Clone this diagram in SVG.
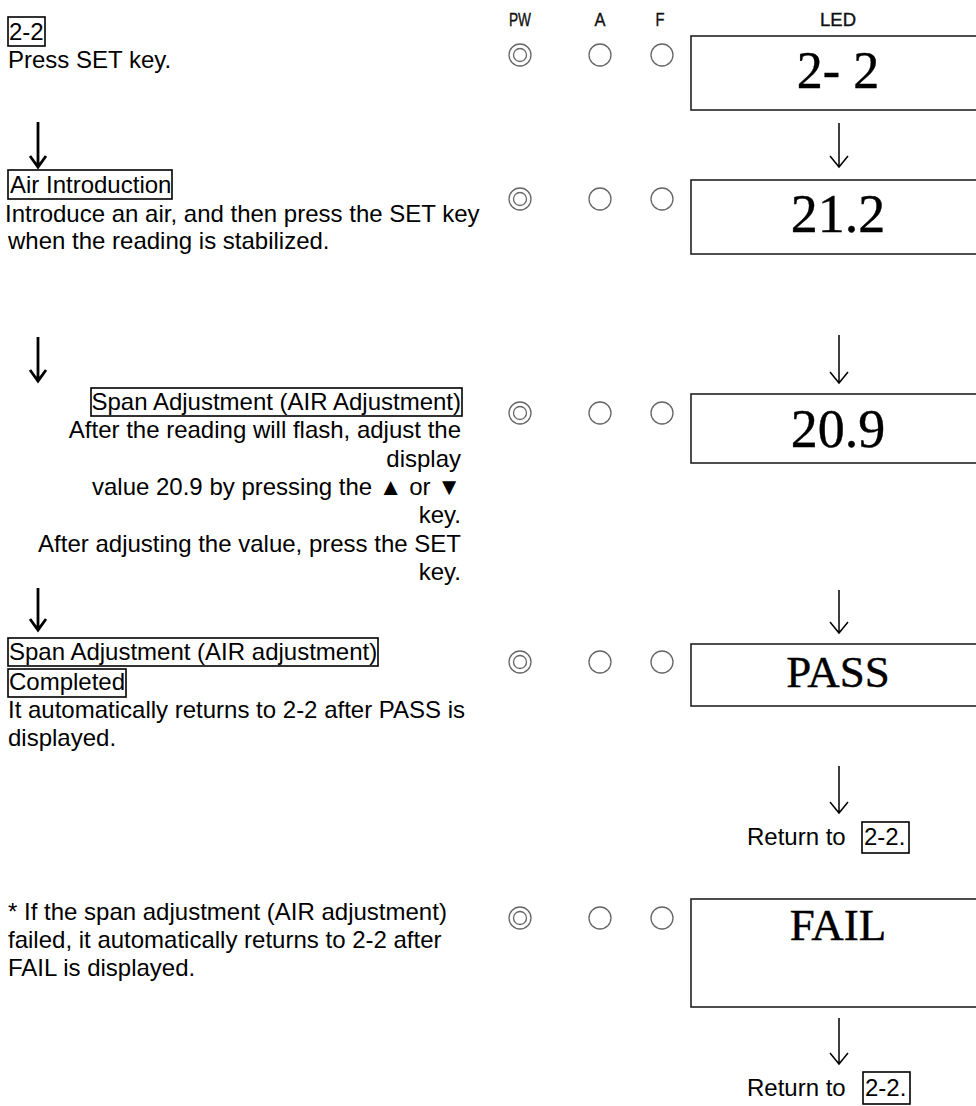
<svg xmlns="http://www.w3.org/2000/svg" width="976" height="1106" viewBox="0 0 976 1106">
<defs>
<style>
.t{font-family:"Liberation Sans",Arial,sans-serif;font-size:24px;fill:#000}
.r{text-anchor:end}
.hd{font-family:"Liberation Sans",Arial,sans-serif;font-size:19px;fill:#111;stroke:#111;stroke-width:0.4;text-anchor:middle}
.led{font-family:"Liberation Serif","Times New Roman",serif;fill:#000;stroke:#000;stroke-width:0.4;text-anchor:middle}
.box{fill:none;stroke:#000;stroke-width:1.6}
.lbox{fill:#fff;stroke:#222;stroke-width:1.6}
.lamp{fill:none;stroke:#666;stroke-width:1.3}
.ar{fill:none;stroke:#000;stroke-width:1.5}
.arl{fill:none;stroke:#000;stroke-width:2.8}
</style>
</defs>
<rect width="976" height="1106" fill="#fff"/>

<g id="header">
<text class="hd" x="520" y="26" textLength="22" lengthAdjust="spacingAndGlyphs">PW</text>
<text class="hd" x="600" y="26" textLength="11" lengthAdjust="spacingAndGlyphs">A</text>
<text class="hd" x="660" y="26" textLength="9" lengthAdjust="spacingAndGlyphs">F</text>
<text class="hd" x="838" y="26" textLength="36" lengthAdjust="spacingAndGlyphs">LED</text>
</g>

<g id="step1">
<rect class="box" x="8" y="17" width="37" height="29"/>
<text class="t" x="9" y="40">2-2</text>
<text class="t" x="8" y="68">Press SET key.</text>
</g>

<g id="step2">
<rect class="box" x="8" y="170" width="164" height="29"/>
<text class="t" x="10" y="193">Air Introduction</text>
<text class="t" x="5" y="222"> Introduce an air, and then press the SET key</text>
<text class="t" x="8" y="249">when the reading is stabilized.</text>
</g>

<g id="step3">
<rect class="box" x="91" y="388" width="371" height="28"/>
<text class="t r" x="461" y="410">Span Adjustment (AIR Adjustment)</text>
<text class="t r" x="461" y="438">After the reading will flash, adjust the</text>
<text class="t r" x="461" y="467">display</text>
<text class="t r" x="461" y="495">value 20.9 by pressing the ▲ or ▼</text>
<text class="t r" x="461" y="523">key.</text>
<text class="t r" x="461" y="552">After adjusting the value, press the SET</text>
<text class="t r" x="461" y="580">key.</text>
</g>

<g id="step4">
<rect class="box" x="8" y="638" width="370" height="28"/>
<text class="t" x="9" y="660">Span Adjustment (AIR adjustment)</text>
<rect class="box" x="8" y="669" width="118" height="28"/>
<text class="t" x="9" y="690">Completed</text>
<text class="t" x="8" y="718">It automatically returns to 2-2 after PASS is</text>
<text class="t" x="8" y="746">displayed.</text>
</g>

<g id="note-fail">
<text class="t" x="8" y="920">* If the span adjustment (AIR adjustment)</text>
<text class="t" x="8" y="948">failed, it automatically returns to 2-2 after</text>
<text class="t" x="8" y="976">FAIL is displayed.</text>
</g>

<g id="lamps">
<circle class="lamp" cx="520" cy="55" r="11"/><circle class="lamp" cx="520" cy="55" r="6.5"/>
<circle class="lamp" cx="600" cy="55" r="11"/><circle class="lamp" cx="662" cy="55" r="11"/>
<circle class="lamp" cx="520" cy="199" r="11"/><circle class="lamp" cx="520" cy="199" r="6.5"/>
<circle class="lamp" cx="600" cy="199" r="11"/><circle class="lamp" cx="662" cy="199" r="11"/>
<circle class="lamp" cx="520" cy="413" r="11"/><circle class="lamp" cx="520" cy="413" r="6.5"/>
<circle class="lamp" cx="600" cy="413" r="11"/><circle class="lamp" cx="662" cy="413" r="11"/>
<circle class="lamp" cx="520" cy="662" r="11"/><circle class="lamp" cx="520" cy="662" r="6.5"/>
<circle class="lamp" cx="600" cy="662" r="11"/><circle class="lamp" cx="662" cy="662" r="11"/>
<circle class="lamp" cx="520" cy="918" r="11"/><circle class="lamp" cx="520" cy="918" r="6.5"/>
<circle class="lamp" cx="600" cy="918" r="11"/><circle class="lamp" cx="662" cy="918" r="11"/>
</g>

<g id="led1">
<rect class="lbox" x="691" y="36" width="300" height="74"/>
<text class="led" x="838" y="88" font-size="52">2- 2</text>
</g>
<g id="led2">
<rect class="lbox" x="691" y="180" width="300" height="74"/>
<text class="led" x="838" y="232" font-size="54">21.2</text>
</g>
<g id="led3">
<rect class="lbox" x="691" y="394" width="300" height="69"/>
<text class="led" x="838" y="447" font-size="54">20.9</text>
</g>
<g id="led4">
<rect class="lbox" x="691" y="644" width="300" height="62"/>
<text class="led" x="838" y="687" font-size="45">PASS</text>
</g>
<g id="led5">
<rect class="lbox" x="691" y="899" width="300" height="108"/>
<text class="led" x="838" y="940" font-size="45">FAIL</text>
</g>

<g id="return1">
<text class="t" x="747" y="845">Return to</text>
<rect class="box" x="862" y="822" width="47" height="31"/>
<text class="t" x="864" y="845">2-2.</text>
</g>
<g id="return2">
<text class="t" x="747" y="1096">Return to</text>
<rect class="box" x="863" y="1072" width="47" height="32"/>
<text class="t" x="865" y="1096">2-2.</text>
</g>

<g id="connectors">
<path class="arl" d="M38 122V166M30 156L38 167L46 156"/>
<path class="arl" d="M38 337V380M30 370L38 381L46 370"/>
<path class="arl" d="M38 588V629M30 619L38 630L46 619"/>
<path class="ar" d="M839 123V167M830 156L839 167L848 156"/>
<path class="ar" d="M839 335V383M830 372L839 383L848 372"/>
<path class="ar" d="M839 590V633M830 622L839 633L848 622"/>
<path class="ar" d="M839 766V813M830 802L839 813L848 802"/>
<path class="ar" d="M839 1018V1064M830 1053L839 1064L848 1053"/>
</g>
</svg>
